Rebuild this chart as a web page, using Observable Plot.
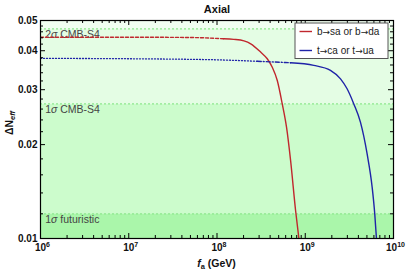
<!DOCTYPE html>
<html><head><meta charset="utf-8">
<script src="https://cdn.jsdelivr.net/npm/d3@7"></script>
<script src="https://cdn.jsdelivr.net/npm/@observablehq/plot@0.6"></script>
<style>
body{margin:0;background:#fff;}
#wrap{position:relative;width:407px;height:274px;}
</style></head><body><div id="wrap"></div>
<script>
// ---- data ----
const title = "Axial";
const xTicks = [1e6, 1e7, 1e8, 1e9, 1e10];
const xTickBase = ["10", "10", "10", "10", "10"];
const xTickExp = ["6", "7", "8", "9", "10"];
const xMinor = [2,3,4,5,6,7,8,9].flatMap(m => [1e6, 1e7, 1e8, 1e9].map(p => m * p));
const yTicks = [0.01, 0.02, 0.03, 0.04, 0.05];
const yTickLabels = ["0.01", "0.02", "0.03", "0.04", "0.05"];
const yMinor = [0.012,0.014,0.016,0.018,0.022,0.024,0.026,0.028,0.032,0.034,0.036,0.038,0.042,0.044,0.046,0.048];

const bandLow = [0.01, 0.012, 0.027, 0.047];
const bandHigh = [0.012, 0.027, 0.047, 0.05];
const bandColors = ["#aaf6aa", "#ccfccc", "#e4fde4", "#f1fff1"];
const bandLines = [0.012, 0.027, 0.047];
const bandLabels = ["1σ futuristic", "1σ CMB-S4", "2σ CMB-S4"];

// b→sa or b→da
const redDashF = [1e6, 1e7, 5e7, 1.19e8];
const redDashV = [0.0442, 0.0442, 0.0441, 0.0437];
const redSolidF = [1.19e8, 1.55e8, 2.02e8, 2.41e8, 3.12e8, 3.71e8, 4.23e8, 4.82e8, 5.49e8, 6.14e8, 6.82e8, 7.77e8, 8.47e8];
const redSolidV = [0.0437, 0.0435, 0.0430, 0.0421, 0.0396, 0.0377, 0.0354, 0.0321, 0.0270, 0.0227, 0.0178, 0.0123, 0.0100];
// t→ca or t→ua
const blueDotF = [1e6, 1e7, 1e8, 2.86e8];
const blueDotV = [0.0378, 0.0377, 0.0374, 0.0370];
const blueDashDotF = [2.86e8, 4.5e8, 6.82e8];
const blueDashDotV = [0.0370, 0.0368, 0.0366];
const blueSolidF = [6.82e8, 1.25e9, 1.93e9, 2.51e9, 2.98e9, 3.55e9, 4.22e9, 5.02e9, 5.73e9, 6.13e9, 6.41e9];
const blueSolidV = [0.0366, 0.0359, 0.0346, 0.0325, 0.0302, 0.0270, 0.0236, 0.0187, 0.0146, 0.0120, 0.0100];

const seriesNames = ["b→sa or b→da", "t→ca or t→ua"];
const seriesColors = ["#c0272d", "#1f23a8"];

// ---- build ----
const toPts = (F, V) => F.map((f, i) => ({f, v: V[i]}));
const W = 407, H = 274, mL = 40, mR = 14, mT = 20, mB = 36;
const fw = W - mL - mR, fh = H - mT - mB;
const font = '"Liberation Sans", Arial, "DejaVu Sans", sans-serif';
const bands = bandLow.map((lo, i) => ({lo, hi: bandHigh[i], c: bandColors[i]}));
const lbls = bandLabels.map((t, i) => ({t, v: bandLines[i]}));

const chart = Plot.plot({
  width: W, height: H,
  marginLeft: mL, marginRight: mR, marginTop: mT, marginBottom: mB,
  x: {type: "log", domain: [1e6, 1e10], axis: null},
  y: {type: "log", domain: [0.01, 0.05], axis: null},
  color: {type: "identity"},
  style: {fontFamily: font, background: "transparent", overflow: "visible"},
  marks: [
    Plot.rect(bands, {x1: () => 1e6, x2: () => 1e10, y1: "lo", y2: "hi", fill: "c"}),
    Plot.ruleY(bandLines, {stroke: "#8ee88e", strokeWidth: 1.2, strokeDasharray: "2,2"}),
    Plot.text(lbls, {x: () => 1.13e6, y: "v", text: "t", textAnchor: "start", lineAnchor: "top", dy: 2, fontSize: 10.5, fill: "#444"}),
    Plot.line(toPts(redDashF, redDashV), {x: "f", y: "v", stroke: seriesColors[0], strokeWidth: 1.4, strokeDasharray: "3,2", curve: "monotone-x", clip: true}),
    Plot.line(toPts(redSolidF, redSolidV), {x: "f", y: "v", stroke: seriesColors[0], strokeWidth: 1.4, curve: "monotone-x", clip: true}),
    Plot.line(toPts(blueDotF, blueDotV), {x: "f", y: "v", stroke: seriesColors[1], strokeWidth: 1.3, strokeDasharray: "1,2", curve: "monotone-x", clip: true}),
    Plot.line(toPts(blueDashDotF, blueDashDotV), {x: "f", y: "v", stroke: seriesColors[1], strokeWidth: 1.4, strokeDasharray: "4,2,1,2", curve: "monotone-x", clip: true}),
    Plot.line(toPts(blueSolidF, blueSolidV), {x: "f", y: "v", stroke: seriesColors[1], strokeWidth: 1.4, curve: "monotone-x", clip: true}),
    // ticks (inward, all four sides)
    Plot.tickX(xTicks, {x: d => d, insetTop: fh - 5, stroke: "#000"}),
    Plot.tickX(xTicks, {x: d => d, insetBottom: fh - 5, stroke: "#000"}),
    Plot.tickX(xMinor, {x: d => d, insetTop: fh - 3, stroke: "#000"}),
    Plot.tickX(xMinor, {x: d => d, insetBottom: fh - 3, stroke: "#000"}),
    Plot.tickY(yTicks, {y: d => d, insetRight: fw - 5, stroke: "#000"}),
    Plot.tickY(yTicks, {y: d => d, insetLeft: fw - 5, stroke: "#000"}),
    Plot.tickY(yMinor, {y: d => d, insetRight: fw - 3, stroke: "#000"}),
    Plot.tickY(yMinor, {y: d => d, insetLeft: fw - 3, stroke: "#000"}),
    Plot.frame({stroke: "#000", strokeWidth: 1.2}),
    // tick labels
    Plot.text(xTicks, {x: d => d, text: (d, i) => xTickBase[i] + "^" + xTickExp[i], frameAnchor: "bottom", lineAnchor: "top", dy: 5, dx: 2, fontSize: 10, fontWeight: "bold", fill: "#111", className: "xtl"}),
    Plot.text(yTicks, {y: d => d, text: (d, i) => yTickLabels[i], frameAnchor: "left", textAnchor: "end", dx: -3, fontSize: 10, fontWeight: "bold", fill: "#111"}),
    // title
    Plot.text([title], {text: d => d, frameAnchor: "top", lineAnchor: "bottom", dy: -8, fontSize: 11, fontWeight: "bold", fill: "#111"})
  ]
});
document.getElementById("wrap").appendChild(chart);

const svg = d3.select(chart);
// italic sigma
svg.selectAll("text").each(function() {
  const t = this.textContent;
  if (t.includes("σ") && this.children.length === 0) {
    const parts = t.split("σ");
    this.textContent = "";
    const s = d3.select(this);
    s.append("tspan").text(parts[0]);
    s.append("tspan").attr("font-style", "italic").text("σ");
    s.append("tspan").text(parts[1]);
  }
});
// superscript exponents on x tick labels
svg.selectAll(".xtl text").each(function() {
  const t = this.textContent;
  if (t.includes("^")) {
    const [b, e] = t.split("^");
    this.textContent = "";
    const s = d3.select(this);
    s.append("tspan").text(b);
    s.append("tspan").attr("font-size", 7).attr("dy", -4).text(e);
  }
});

// axis labels
const xl = svg.append("text").attr("x", mL + fw / 2).attr("y", 267).attr("text-anchor", "middle")
  .attr("font-family", font).attr("font-size", 10.5).attr("font-weight", "bold").attr("fill", "#111");
xl.append("tspan").attr("font-style", "italic").text("f");
xl.append("tspan").attr("font-size", 7.5).attr("dy", 2).text("a");
xl.append("tspan").attr("dy", -2).text(" (GeV)");

const yl = svg.append("text").attr("transform", `translate(13,${mT + fh / 2 - 6}) rotate(-90)`).attr("text-anchor", "middle")
  .attr("font-family", font).attr("font-size", 10.5).attr("font-weight", "bold").attr("fill", "#111");
yl.append("tspan").text("ΔN");
yl.append("tspan").attr("font-size", 7.5).attr("font-style", "italic").attr("dy", 2).text("eff");

// legend
const lg = svg.append("g").attr("transform", "translate(295,23)");
lg.append("rect").attr("width", 93).attr("height", 35.5).attr("fill", "#fff").attr("stroke", "#555").attr("stroke-width", 1);
seriesNames.forEach((n, i) => {
  const yy = 8.5 + i * 19;
  lg.append("line").attr("x1", 4.5).attr("x2", 17).attr("y1", yy).attr("y2", yy).attr("stroke", seriesColors[i]).attr("stroke-width", 1.4);
  const tx = lg.append("text").attr("x", 22).attr("y", yy).attr("dy", "0.35em").attr("text-anchor", "start")
    .attr("font-family", font).attr("font-size", 10).attr("fill", "#222");
  n.split(/(→)/).forEach(p => {
    const ts = tx.append("tspan").text(p);
    if (p === "→") ts.attr("font-family", '"DejaVu Sans", sans-serif').attr("font-size", 9);
  });
});
</script></body></html>
